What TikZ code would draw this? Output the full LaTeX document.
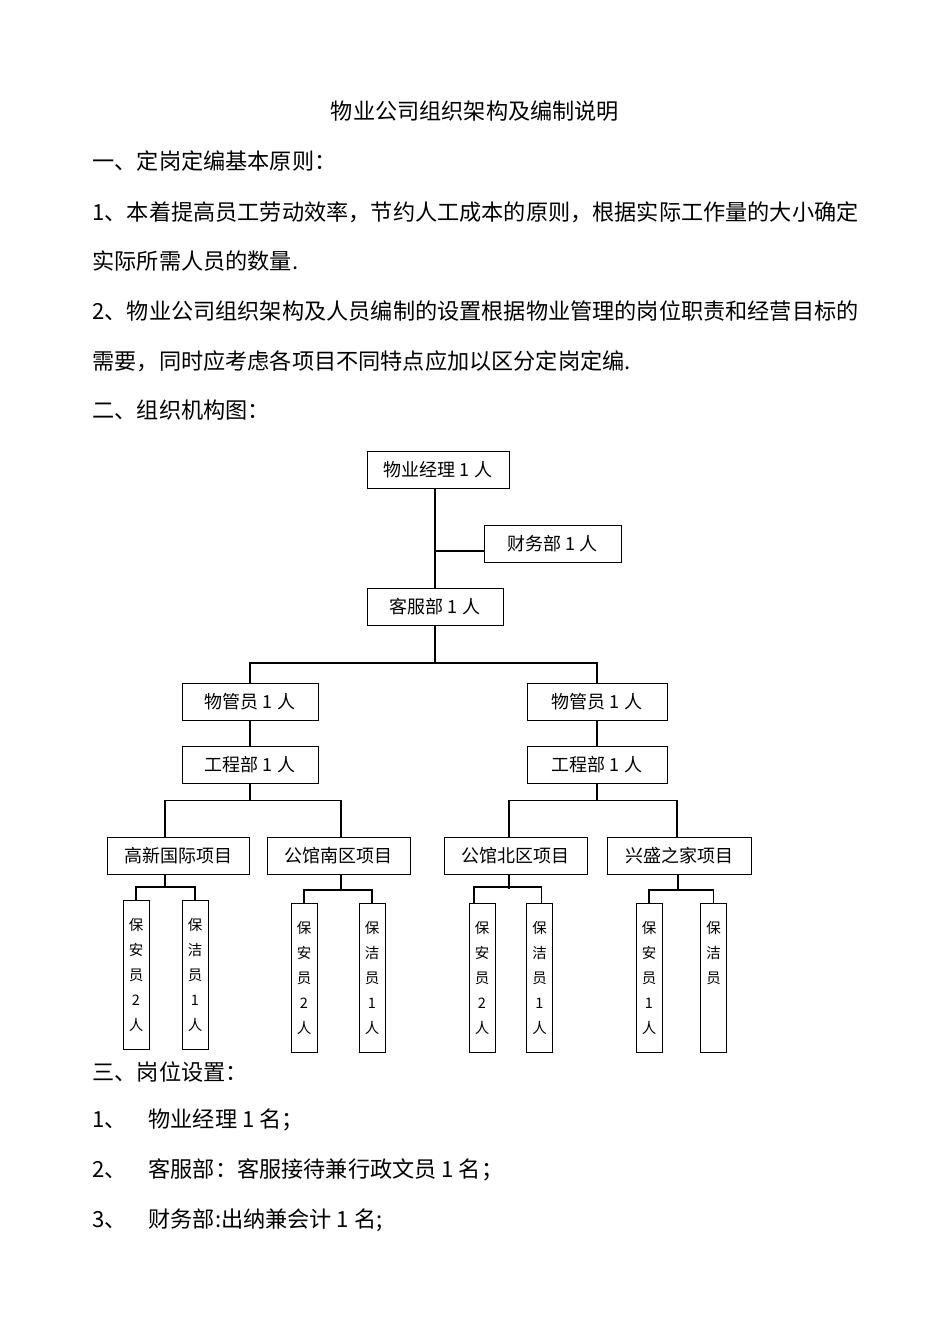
\documentclass[tikz,border=0pt]{standalone}
\usepackage{fontspec}
\setmainfont{Noto Sans CJK SC}
\usetikzlibrary{positioning, calc}
\tikzset{
  every picture/.style={line width=1pt},
  orgbox/.style={draw, inner sep=0pt, minimum height=37pt, font=\fontsize{18}{18}\selectfont},
  staffbox/.style={draw, inner sep=0pt, minimum width=26pt, minimum height=149pt, align=center, font=\fontsize{14.5}{25}\selectfont},
  textline/.style={anchor=west, inner sep=0pt, font=\fontsize{22.17}{22.17}\selectfont},
  link/.style={draw, line width=1.1pt},
}

\begin{document}
\begin{tikzpicture}[x=1pt, y=-1pt]
  \useasboundingbox[fill=white] (0,0) rectangle (950,1344);
  % heading and principles
  \node[textline, anchor=center] (title) at (475,111) {物业公司组织架构及编制说明};
  \node[textline] (sec1) at (92,161) {一、定岗定编基本原则：};
  \node[textline] (p1a) at (92,212) {1、本着提高员工劳动效率，节约人工成本的原则，根据实际工作量的大小确定};
  \node[textline] (p1b) at (92,261) {实际所需人员的数量.};
  \node[textline] (p2a) at (92,311) {2、物业公司组织架构及人员编制的设置根据物业管理的岗位职责和经营目标的};
  \node[textline] (p2b) at (92,361) {需要，同时应考虑各项目不同特点应加以区分定岗定编.};
  \node[textline] (sec2) at (92,410) {二、组织机构图：};

  % org chart
  \node[orgbox, minimum width=142pt] (mgr) at (438,470) {物业经理 1 人};
  \node[orgbox, minimum width=137pt] (fin) at (552.5,544) {财务部 1 人};
  \node[orgbox, minimum width=136pt] (cs) at (435,607) {客服部 1 人};
  \node[orgbox, minimum width=136pt] (pmL) at (250,702) {物管员 1 人};
  \node[orgbox, minimum width=140pt] (pmR) at (597,702) {物管员 1 人};
  \node[orgbox, minimum width=136pt] (engL) at (250,764.5) {工程部 1 人};
  \node[orgbox, minimum width=140pt] (engR) at (597,764.5) {工程部 1 人};
  \node[orgbox, minimum width=142pt] (gx) at (178,856) {高新国际项目};
  \node[orgbox, minimum width=143pt] (gn) at (338.5,856) {公馆南区项目};
  \node[orgbox, minimum width=143pt] (gb) at (515.5,856) {公馆北区项目};
  \node[orgbox, minimum width=144pt] (xs) at (679,856) {兴盛之家项目};

  \node[staffbox] (gxa) at (136,974.5) {保\\安\\员\\2\\人};
  \node[staffbox] (gxb) at (195,974.5) {保\\洁\\员\\1\\人};
  \node[staffbox] (gna) at (304,977.5) {保\\安\\员\\2\\人};
  \node[staffbox] (gnb) at (372,977.5) {保\\洁\\员\\1\\人};
  \node[staffbox] (gba) at (482,977.5) {保\\安\\员\\2\\人};
  \node[staffbox] (gbb) at (539.5,977.5) {保\\洁\\员\\1\\人};
  \node[staffbox] (xsa) at (649,977.5) {保\\安\\员\\1\\人};
  \node[staffbox] (xsb) at (713.5,977.5) {保\\洁\\员\\~\\~};

  % connectors
  \draw[link] (mgr.south -| cs.north) -- (cs.north);
  \draw[link] ([yshift=-7pt]fin.west) -- ([yshift=-7pt]fin.west -| cs.north);
  \draw[link] (cs.south) -- ++(0,37) coordinate (cs-j);
  \draw[link] (pmL.north) |- (cs-j) -| (pmR.north);
  \draw[link] (pmL) -- (engL);
  \draw[link] (pmR) -- (engR);
  \draw[link] (engL.south) -- ++(0,17) coordinate (engL-j);
  \draw[link] ([xshift=-13pt]gx.north) |- (engL-j) -| ([xshift=2.5pt]gn.north);
  \draw[link] (engR.south) -- ++(0,17) coordinate (engR-j);
  \draw[link] ([xshift=-6.5pt]gb.north) |- (engR-j) -| ([xshift=-2pt]xs.north);
  \draw[link] ([xshift=-13pt]gx.south) -- ++(0,12) coordinate (gx-j);
  \draw[link] (gxa.north) |- (gx-j) -| (gxb.north);
  \draw[link] ([xshift=2.5pt]gn.south) -- ++(0,15) coordinate (gn-j);
  \draw[link] (gna.north) |- (gn-j) -| (gnb.north);
  \draw[link] ([xshift=-6.5pt]gb.south) -- ++(0,14) coordinate (gb-j);
  \draw[link] ([xshift=-8pt]gba.north) |- ([yshift=2pt]gb-j) -| ([xshift=2pt]gbb.north);
  \draw[link] ([xshift=-1pt]xs.south) -- ++(0,15) coordinate (xs-j);
  \draw[link] (xsa.north) |- (xs-j) -| (xsb.north);

  % posts
  \node[textline] (sec3) at (92,1072) {三、岗位设置：};
  \node[textline] (n1) at (92,1120) {1、};
  \node[textline] (t1) at (148,1120) {物业经理 1 名；};
  \node[textline] (n2) at (92,1170) {2、};
  \node[textline] (t2) at (148,1170) {客服部：客服接待兼行政文员 1 名；};
  \node[textline] (n3) at (92,1220) {3、};
  \node[textline] (t3) at (148,1220) {财务部:出纳兼会计 1 名;};
\end{tikzpicture}
\end{document}
